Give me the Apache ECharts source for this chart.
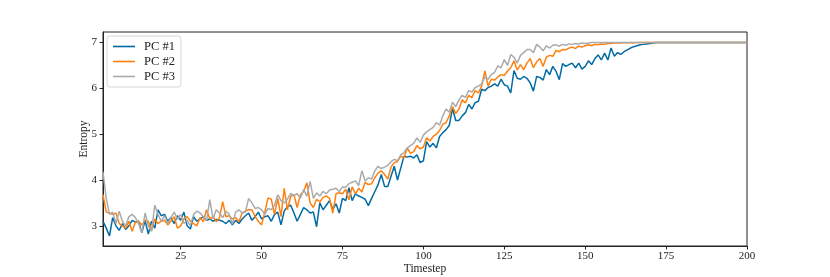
<!DOCTYPE html>
<html>
<head>
    <meta charset="UTF-8">
    <title>Entropy</title>
    <script src="https://cdn.jsdelivr.net/npm/echarts@6/dist/echarts.min.js"></script>
    <style>html,body{margin:0;padding:0;background:#fff;} #main{width:830px;height:277px;}</style>
</head>
<body>
<div id="main"></div>
<script>
    // readings, one value per timestep (1..200)
    var pc1 = [
        3.10, 2.95, 2.78, 3.18, 3.00, 2.90, 3.05, 2.92, 3.00, 3.12,
        3.08, 3.10, 2.85, 3.12, 2.82, 3.10, 2.95, 3.35, 3.22, 3.25,
        3.10, 3.18, 3.05, 3.22, 3.12, 3.30, 3.00, 2.93, 3.20, 3.10,
        3.15, 3.20, 3.12, 3.15, 3.10, 3.14, 3.12, 3.10, 3.05, 3.12,
        3.02, 3.12, 3.05, 3.15, 3.22, 3.28, 3.12, 3.20, 3.30, 3.15,
        3.20, 3.22, 3.10, 3.25, 3.30, 3.02, 3.32, 3.42, 3.45, 3.28,
        3.10, 3.25, 3.40, 3.35, 3.28, 3.30, 2.98, 3.50, 3.35, 3.45,
        3.55, 3.36, 3.48, 3.28, 3.60, 3.55, 3.83, 3.55, 3.70, 3.65,
        3.62, 3.58, 3.44, 3.60, 3.75, 3.90, 4.12, 3.86, 3.86, 4.08,
        4.30, 4.00, 4.26, 4.52, 4.50, 4.52, 4.48, 4.55, 4.38, 4.42,
        4.84, 4.72, 4.80, 4.70, 4.95, 5.03, 5.10, 5.19, 5.56, 5.30,
        5.30, 5.40, 5.47, 5.65, 5.55, 5.69, 5.72, 5.98, 5.95, 6.02,
        6.05, 6.10, 6.05, 6.20, 6.08, 6.05, 5.90, 6.39, 6.22, 6.20,
        6.26, 6.22, 6.12, 5.94, 6.26, 6.24, 6.18, 6.41, 6.30, 6.48,
        6.37, 6.19, 6.54, 6.48, 6.52, 6.55, 6.45, 6.55, 6.42, 6.48,
        6.60, 6.52, 6.65, 6.73, 6.62, 6.77, 6.62, 6.88, 6.70, 6.78,
        6.74, 6.80, 6.84, 6.88, 6.91, 6.93, 6.95, 6.96, 6.97, 6.98,
        6.99, 7, 7, 7, 7, 7, 7, 7, 7, 7,
        7, 7, 7, 7, 7, 7, 7, 7, 7, 7,
        7, 7, 7, 7, 7, 7, 7, 7, 7, 7
    ];
    var pc2 = [
        3.68, 3.30, 3.28, 3.25, 3.28, 3.05, 3.00, 2.95, 3.10, 2.88,
        3.08, 3.10, 3.02, 3.12, 3.10, 2.90, 3.15, 3.05, 3.10, 3.12,
        3.02, 3.10, 3.20, 2.95, 3.00, 3.15, 3.20, 3.10, 3.05, 3.00,
        3.18, 3.09, 3.35, 3.15, 3.20, 3.09, 3.18, 3.53, 3.20, 3.22,
        3.15, 3.18, 3.09, 3.28, 3.32, 3.35, 3.35, 3.20, 3.10, 3.02,
        3.30, 3.61, 3.58, 3.25, 3.60, 3.20, 3.82, 3.35, 3.64, 3.68,
        3.40, 3.68, 3.75, 3.94, 3.50, 3.40, 3.58, 3.52, 3.62, 3.65,
        3.60, 3.28, 3.70, 3.72, 3.70, 3.80, 3.57, 3.85, 3.70, 3.82,
        3.74, 3.95, 3.90, 3.92, 4.05, 4.15, 4.20, 4.12, 4.02, 4.28,
        4.38, 4.40, 4.52, 4.48, 4.70, 4.58, 4.62, 4.75, 4.68, 4.72,
        4.92, 4.85, 4.95, 5.00, 5.08, 5.22, 5.25, 5.40, 5.60, 5.45,
        5.55, 5.75, 5.68, 5.85, 5.80, 5.95, 5.90, 6.05, 6.38, 6.05,
        6.20, 6.18, 6.25, 6.30, 6.28, 6.38, 6.45, 6.60, 6.40, 6.52,
        6.41, 6.55, 6.65, 6.45, 6.58, 6.65, 6.48, 6.68, 6.72, 6.70,
        6.83, 6.80, 6.85, 6.84, 6.88, 6.90, 6.87, 6.92, 6.90, 6.93,
        6.95, 6.93, 6.96, 6.95, 6.97, 6.96, 6.98, 6.98, 6.99, 6.99,
        6.99, 7, 6.99, 7, 6.99, 7, 7, 7, 7, 7,
        7, 7, 7, 7, 7, 7, 7, 7, 7, 7,
        7, 7, 7, 7, 7, 7, 7, 7, 7, 7,
        7, 7, 7, 7, 7, 7, 7, 7, 7, 7
    ];
    var pc3 = [
        4.18, 3.60, 3.25, 3.30, 3.05, 3.32, 3.10, 3.00, 3.20, 3.25,
        3.18, 3.05, 2.85, 3.28, 3.00, 2.88, 3.45, 3.25, 3.10, 3.22,
        3.05, 3.18, 3.30, 3.15, 3.25, 3.05, 3.12, 3.00, 3.25, 3.32,
        3.28, 3.20, 3.12, 3.57, 3.15, 3.35, 3.28, 3.18, 3.32, 3.25,
        3.04, 3.30, 3.35, 3.28, 3.30, 3.60, 3.50, 3.38, 3.40, 3.35,
        3.25, 3.38, 3.35, 3.45, 3.68, 3.55, 3.50, 3.58, 3.71, 3.66,
        3.70, 3.60, 3.79, 3.65, 3.97, 3.60, 3.72, 3.65, 3.75, 3.70,
        3.78, 3.80, 3.82, 3.75, 3.85, 3.84, 3.92, 3.95, 3.98, 3.88,
        4.20, 3.98, 4.05, 4.02, 4.20, 4.30, 4.25, 4.28, 4.32, 4.40,
        4.45, 4.42, 4.55, 4.60, 4.70, 4.75, 4.80, 4.92, 4.82, 4.98,
        5.05, 5.10, 5.15, 5.25, 5.20, 5.40, 5.55, 5.48, 5.70, 5.60,
        5.75, 5.85, 5.80, 5.95, 5.92, 6.02, 6.05, 6.10, 6.25, 6.20,
        6.30, 6.35, 6.49, 6.45, 6.63, 6.50, 6.74, 6.68, 6.55, 6.72,
        6.78, 6.85, 6.85, 6.78, 6.96, 6.90, 6.82, 6.93, 6.88, 6.94,
        6.95, 6.92, 6.96, 6.94, 6.97, 6.96, 6.98, 6.97, 6.99, 6.98,
        6.99, 7, 7, 7, 7, 7, 7, 7, 7, 7,
        7, 7, 7, 7, 7, 7, 7, 7, 7, 7,
        7, 7, 7, 7, 7, 7, 7, 7, 7, 7,
        7, 7, 7, 7, 7, 7, 7, 7, 7, 7,
        7, 7, 7, 7, 7, 7, 7, 7, 7, 7
    ];
    var seriesNames = ['PC #1', 'PC #2', 'PC #3'];
    var seriesColors = ['#006BA4', '#FF800E', '#ABABAB'];
    var xTicks = [25, 50, 75, 100, 125, 150, 175, 200];
    var yTicks = [3, 4, 5, 6, 7];

    var font = '"Liberation Serif", "DejaVu Serif", serif';

    function pairs(vals) {
        var out = [];
        for (var i = 0; i < vals.length; i++) {
            out.push([i + 1, vals[i]]);
        }
        return out;
    }

    var myChart = echarts.init(document.getElementById('main'), null, {renderer: 'canvas'});
    var option = {
        animation: false,
        textStyle: {fontFamily: font},
        grid: {
            left: 103, right: 83, top: 32, bottom: 31,
            outerBoundsMode: 'none',
            show: true, borderColor: '#222', borderWidth: 1
        },
        legend: {
            orient: 'vertical',
            left: 107, top: 36,
            padding: [4, 6, 4, 6],
            itemGap: 2,
            itemWidth: 22, itemHeight: 1.6,
            icon: 'rect',
            borderColor: '#d6d6d6', borderWidth: 1, borderRadius: 3,
            backgroundColor: '#fff',
            textStyle: {fontFamily: font, fontSize: 12.5, color: '#222', padding: [0, 0, 0, 4]},
            data: seriesNames
        },
        xAxis: {
            type: 'value',
            min: 1, max: 200,
            name: 'Timestep',
            nameLocation: 'middle',
            nameGap: 17,
            nameMoveOverlap: false,
            nameTextStyle: {fontFamily: font, fontSize: 11.5, color: '#222'},
            splitLine: {show: false},
            axisLine: {show: true, lineStyle: {color: '#222', width: 1}},
            axisTick: {show: true, length: 3.5, customValues: xTicks, lineStyle: {color: '#222'}},
            axisLabel: {customValues: xTicks, margin: 5, fontSize: 11, color: '#222', fontFamily: font}
        },
        yAxis: {
            type: 'value',
            min: 2.56, max: 7.23,
            name: 'Entropy',
            nameLocation: 'middle',
            nameRotate: 90,
            nameGap: 13,
            nameMoveOverlap: false,
            nameTextStyle: {fontFamily: font, fontSize: 11.5, color: '#222'},
            splitLine: {show: false},
            axisLine: {show: true, lineStyle: {color: '#222', width: 1}},
            axisTick: {show: true, length: 3.5, customValues: yTicks, lineStyle: {color: '#222'}},
            axisLabel: {customValues: yTicks, margin: 6, fontSize: 11, color: '#222', fontFamily: font}
        },
        series: [pc1, pc2, pc3].map(function (vals, i) {
            return {
                name: seriesNames[i],
                type: 'line',
                data: pairs(vals),
                symbol: 'none',
                color: seriesColors[i],
                lineStyle: {width: 1.5, color: seriesColors[i]}
            };
        })
    };
    myChart.setOption(option);
</script>
</body>
</html>
